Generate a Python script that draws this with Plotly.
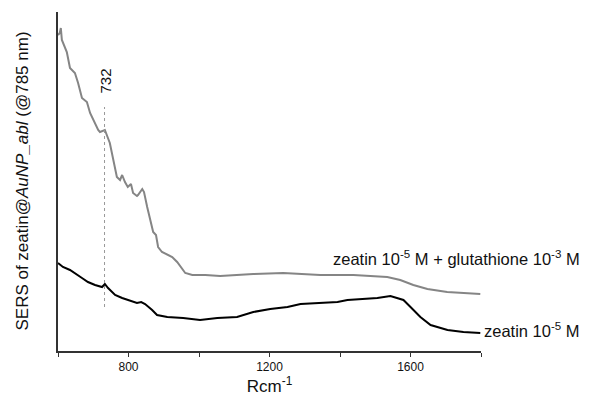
import plotly.graph_objects as go

# Wavenumber (cm-1) and intensity (arb. units)
gray_x = [600, 605, 608, 611, 625, 634, 648, 657, 668, 682, 691, 702, 714, 719, 733,
          747, 756, 767, 776, 782, 790, 798, 807, 813, 824, 827, 839, 844, 853, 861,
          870, 878, 884, 895, 910, 924, 938, 952, 961, 981, 1018, 1060, 1154, 1239,
          1344, 1438, 1534, 1571, 1608, 1648, 1704, 1798]
gray_y = [316, 318, 323, 311, 299, 283, 278, 268, 253, 249, 238, 229, 221, 219, 221,
          208, 191, 174, 171, 176, 169, 164, 167, 158, 155, 156, 162, 159, 144, 131,
          119, 116, 104, 99, 96, 94, 89, 83, 78, 76, 76, 75, 77, 78,
          76, 76, 74, 71, 66, 62, 59, 57]

black_x = [600, 614, 634, 648, 668, 685, 705, 725, 733, 742, 762, 782, 810, 824, 836,
           847, 867, 881, 910, 955, 1003, 1052, 1108, 1154, 1202, 1251, 1288, 1344,
           1393, 1421, 1458, 1506, 1543, 1563, 1580, 1600, 1628, 1657, 1705, 1750, 1798]
black_y = [88, 84, 81, 78, 73, 69, 66, 64, 67, 63, 56, 53, 50, 48, 49,
           47, 41, 36, 34, 33, 31, 33, 34, 39, 42, 44, 47, 48,
           49, 51, 52, 53, 55, 53, 51, 44, 34, 26, 21, 19, 18]

tick_vals = [600, 800, 1000, 1200, 1400, 1600, 1800]
tick_text = ["", "800", "", "1200", "", "1600", ""]

marker_x = 732
marker_y = [44, 244]

FONT = "Arial, Liberation Sans, sans-serif"

fig = go.Figure()
fig.add_trace(go.Scatter(x=gray_x, y=gray_y, mode="lines",
                         line=dict(color="#858585", width=2), showlegend=False))
fig.add_trace(go.Scatter(x=black_x, y=black_y, mode="lines",
                         line=dict(color="#000000", width=2), showlegend=False))
fig.add_trace(go.Scatter(x=[marker_x, marker_x], y=marker_y, mode="lines",
                         line=dict(color="#999999", width=1, dash="dot"), showlegend=False))

fig.add_annotation(x=marker_x, y=270, text="732", textangle=-90, showarrow=False,
                   font=dict(family=FONT, size=15, color="#111"))
fig.add_annotation(xref="paper", x=1.239, xanchor="right", y=93, yanchor="middle",
                   text="zeatin 10<sup>-5</sup> M + glutathione 10<sup>-3</sup> M",
                   showarrow=False, font=dict(family=FONT, size=16.5, color="#111"))
fig.add_annotation(xref="paper", x=1.239, xanchor="right", y=21, yanchor="middle",
                   text="zeatin 10<sup>-5</sup> M",
                   showarrow=False, font=dict(family=FONT, size=16.5, color="#111"))
fig.add_annotation(xref="paper", yref="paper", x=-0.085, y=0.5, xanchor="center",
                   text="SERS of zeatin@<i>AuNP_abl</i> (@785 nm)", textangle=-90,
                   showarrow=False, font=dict(family=FONT, size=17, color="#111"))

# page body has an 8px margin, so the figure is sized to fit the 592x400 window
fig.update_layout(
    width=584, height=392,
    margin=dict(l=50, r=111, t=4, b=49),
    paper_bgcolor="white", plot_bgcolor="white",
    font=dict(family=FONT, color="#111"),
    xaxis=dict(range=[600, 1800], tickvals=tick_vals, ticktext=tick_text,
               ticks="outside", ticklen=4, tickwidth=1.2, tickcolor="#333",
               showline=True, linecolor="#333", linewidth=1.5, showgrid=False,
               zeroline=False, tickfont=dict(size=12),
               title=dict(text="Rcm<sup>-1</sup>", font=dict(size=17), standoff=6)),
    yaxis=dict(range=[0, 339], showticklabels=False, ticks="", showline=True,
               linecolor="#333", linewidth=1.5, showgrid=False, zeroline=False),
)

fig.write_html("out.html")
